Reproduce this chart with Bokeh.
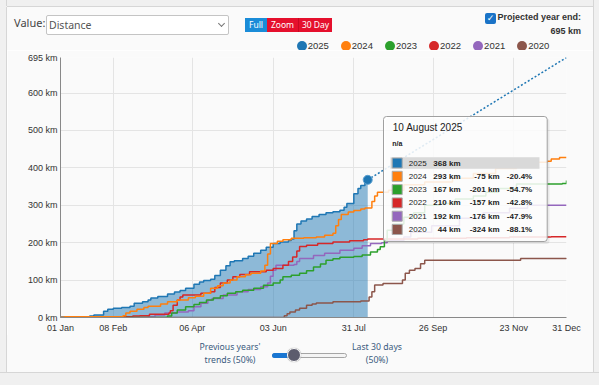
import pandas as pd
from bokeh.plotting import figure
from bokeh.layouts import column, row
from bokeh.models import (Label, BoxAnnotation, FixedTicker, DatetimeTickFormatter,
                          PrintfTickFormatter, Range1d, Div)
from bokeh.embed import file_html
from bokeh.resources import INLINE

YEAR = 2025

# ---------------- data ----------------
years = ["2025", "2024", "2023", "2022", "2021", "2020"]
colors = ["#1f77b4", "#ff7f0e", "#2ca02c", "#d62728", "#9467bd", "#8c564b"]

d2025 = ["01-01", "01-22", "01-25", "02-01", "02-04", "02-08", "02-14", "02-20", "02-23", "03-01",
         "03-05", "03-07", "03-12", "03-19", "03-24", "03-28", "04-01", "04-07", "04-11", "04-14",
         "04-19", "04-22", "04-26", "04-30", "05-03", "05-06", "05-12", "05-16", "05-20", "05-25",
         "05-29", "06-03", "06-08", "06-14", "06-16", "06-18", "06-20", "06-23", "06-27", "07-01",
         "07-06", "07-11", "07-16", "07-21", "07-24", "07-26", "07-31", "08-03", "08-05", "08-08",
         "08-10"]
k2025 = [0, 4, 7, 17, 22, 25, 27, 30, 38, 42,
         47, 52, 56, 63, 68, 72, 78, 89, 95, 99,
         102, 112, 126, 138, 149, 152, 158, 164, 172, 180,
         188, 198, 202, 206, 210, 232, 250, 258, 263, 270,
         275, 280, 283, 287, 295, 305, 331, 345, 353, 362,
         368]

d2024 = ["01-01", "01-04", "02-15", "02-17", "02-20", "02-25", "03-02", "03-05", "03-14", "03-19",
         "03-26", "04-03", "04-08", "04-14", "04-19", "04-24", "04-28", "05-03", "05-08", "05-14",
         "05-18", "05-25", "05-28", "05-30", "06-01", "06-06", "06-10", "06-16", "06-25", "07-04",
         "07-10", "07-16", "07-18", "07-20", "07-22", "07-27", "07-31", "08-05", "08-08", "08-13",
         "08-15", "08-17", "08-25", "09-05", "09-20", "10-10", "10-25", "11-10", "11-25", "12-10",
         "12-17", "12-20", "12-26", "12-31"]
k2024 = [0, 2, 5, 12, 17, 22, 27, 30, 36, 42,
         47, 53, 57, 65, 78, 85, 92, 100, 109, 114,
         118, 124, 140, 170, 198, 204, 208, 212, 213, 215,
         220, 225, 245, 262, 275, 282, 286, 290, 293, 310,
         325, 335, 340, 355, 362, 372, 385, 398, 408, 415,
         418, 424, 428, 428]

d2023 = ["01-01", "03-19", "03-22", "03-26", "04-01", "04-07", "04-11", "04-16", "04-21", "04-26",
         "05-01", "05-07", "05-12", "05-20", "05-27", "06-03", "06-08", "06-10", "06-16", "06-22",
         "06-27", "07-02", "07-07", "07-11", "07-16", "07-21", "07-31", "08-06", "08-12", "08-17",
         "08-19", "08-22", "08-24", "08-28", "09-05", "09-12", "09-20", "10-01", "10-12", "10-25",
         "11-03", "11-12", "11-25", "12-28", "12-31"]
k2023 = [0, 4, 12, 20, 29, 35, 40, 47, 52, 58,
         65, 69, 73, 78, 86, 92, 100, 109, 113, 118,
         125, 135, 143, 153, 157, 161, 163, 167, 175, 182,
         189, 206, 233, 250, 268, 280, 300, 305, 317, 325,
         335, 345, 357, 358, 366]

d2022 = ["01-01", "02-10", "02-22", "02-27", "03-06", "03-20", "03-21", "03-23", "03-26", "03-28",
         "03-30", "04-12", "04-19", "04-22", "04-26", "05-01", "05-05", "05-10", "05-17", "05-29",
         "06-03", "06-10", "06-14", "06-17", "06-20", "06-22", "06-27", "07-05", "07-16", "07-28",
         "08-07", "08-10", "09-15", "10-20", "11-20", "12-20", "12-31"]
k2022 = [0, 2, 4, 5, 9, 12, 18, 33, 47, 55,
         60, 65, 69, 80, 92, 100, 109, 115, 122, 126,
         131, 140, 150, 162, 178, 190, 193, 198, 202, 205,
         208, 210, 212, 213, 215, 216, 216]

d2021 = ["01-01", "03-05", "03-10", "03-17", "03-26", "04-03", "04-07", "04-12", "04-17", "04-20",
         "04-28", "05-08", "05-16", "05-25", "05-30", "06-01", "06-03", "06-05", "06-18", "06-20",
         "06-22", "07-02", "07-10", "07-21", "07-31", "08-06", "08-12", "08-20", "08-24", "09-05",
         "09-10", "09-25", "10-15", "11-01", "11-20", "12-03", "12-31"]
k2021 = [0, 2, 7, 12, 15, 18, 29, 38, 46, 51,
         60, 69, 75, 82, 92, 110, 126, 140, 142, 150,
         158, 166, 172, 180, 185, 192, 198, 200, 206, 215,
         228, 245, 265, 280, 292, 300, 300]

d2020 = ["01-01", "06-11", "06-13", "06-15", "06-19", "06-22", "06-27", "07-01", "07-04", "07-16",
         "08-05", "08-11", "08-13", "08-15", "08-21", "09-04", "09-06", "09-09", "09-13", "09-17",
         "09-20", "11-28", "12-31"]
k2020 = [0, 5, 10, 15, 20, 25, 33, 36, 39, 42,
         44, 55, 69, 87, 91, 100, 118, 126, 131, 144,
         153, 158, 159]

projected_km = 695
current_day = "08-10"
year_start = "01-01"
year_end = "12-31"
x_ticks = ["01-01", "02-08", "04-06", "06-03", "07-31", "09-26", "11-23", "12-31"]
x_grid = ["02-08", "04-06", "06-03", "07-31", "09-26", "11-23"]
y_ticks = [0, 100, 200, 300, 400, 500, 600, 695]
y_grid = [100, 200, 300, 400, 500, 600]

tip_title = "10 August 2025"
tip_km = ["368 km", "293 km", "167 km", "210 km", "192 km", "44 km"]
tip_diff = ["", "-75 km", "-201 km", "-157 km", "-176 km", "-324 km"]
tip_pct = ["", "-20.4%", "-54.7%", "-42.8%", "-47.9%", "-88.1%"]


def ts(md):
    return pd.Timestamp(f"{YEAR}-{md}")


def ms(md):
    return ts(md).value / 1e6


BG = "#fafafa"
OUT = "#f0f0f0"
EDGE = "#d6d6d6"
UI = "'Noto Sans', sans-serif"
AR = "'Liberation Sans', Arial, sans-serif"

# ---------------- figure ----------------
p = figure(width=586, height=285, x_axis_type="datetime", output_backend="svg",
           toolbar_location=None, title=None,
           x_range=Range1d(ms(year_start), ms(year_end)), y_range=Range1d(0, projected_km),
           min_border_left=53, min_border_right=27, min_border_top=7, min_border_bottom=17)
p.background_fill_color = BG
p.border_fill_color = BG
p.outline_line_color = None

p.xaxis.ticker = FixedTicker(ticks=[ms(t) for t in x_ticks])
p.xgrid.ticker = FixedTicker(ticks=[ms(t) for t in x_grid])
fmt = "%d %b"
p.xaxis.formatter = DatetimeTickFormatter(milliseconds=fmt, seconds=fmt, minsec=fmt, minutes=fmt,
                                          hourmin=fmt, hours=fmt, days=fmt, months=fmt, years=fmt)
p.yaxis.ticker = FixedTicker(ticks=y_ticks)
p.ygrid.ticker = FixedTicker(ticks=y_grid)
p.yaxis.formatter = PrintfTickFormatter(format="%d km")
for ax in (p.xaxis, p.yaxis):
    ax.axis_line_color = "#888888"
    ax.major_tick_line_color = None
    ax.minor_tick_line_color = None
    ax.major_tick_out = 0
    ax.major_tick_in = 0
    ax.minor_tick_out = 0
    ax.minor_tick_in = 0
    ax.major_label_text_font = "Liberation Sans"
    ax.major_label_text_font_size = "9px"
    ax.major_label_text_color = "#333333"
p.xaxis.major_label_standoff = 5
p.yaxis.major_label_standoff = 3
p.grid.grid_line_color = "#e4e4e4"

# ---------------- series ----------------
x25 = [ts(d) for d in d2025]
p.varea_step(x=x25, y1=[0] * len(k2025), y2=k2025, step_mode="after",
             fill_color=colors[0], fill_alpha=0.5)
p.step(x=x25, y=k2025, mode="after", line_color=colors[0], line_width=1.5)

others = [(d2024, k2024), (d2023, k2023), (d2022, k2022), (d2021, k2021), (d2020, k2020)]
for (dd, kk), col in reversed(list(zip(others, colors[1:]))):
    p.step(x=[ts(d) for d in dd], y=kk, mode="after", line_color=col, line_width=1.5)

p.line(x=[ts(current_day), ts(year_end)], y=[k2025[-1], projected_km],
       line_color=colors[0], line_width=1.5, line_dash="2 2")
p.scatter(x=[ts(current_day)], y=[k2025[-1]], size=9, fill_color=colors[0],
          line_color="#5a9fd0", line_width=1)


# ---------------- tooltip (inside the plot frame) ----------------
def lab(x, y, text, size="8px", color="#222222", style="normal", align="left"):
    p.add_layout(Label(x=x, y=y, x_units="canvas", y_units="canvas", text=text,
                       text_font="Liberation Sans", text_font_size=size, text_color=color,
                       text_font_style=style, text_align=align, text_baseline="middle"))


def box(l, t, r, b, fill, line=None, radius=0, alpha=1.0):
    p.add_layout(BoxAnnotation(left=l, right=r, top=t, bottom=b,
                               left_units="canvas", right_units="canvas",
                               top_units="canvas", bottom_units="canvas",
                               fill_color=fill, fill_alpha=alpha,
                               line_color=line, line_alpha=1.0, line_width=1,
                               border_radius=radius))


box(378, 68, 542, 193.5, "#000000", radius=3, alpha=0.07)
box(376, 66, 539.7, 191, "#ffffff", line="#a0a0a0", radius=3, alpha=0.86)
lab(385.3, 76.7, tip_title, size="10px")
lab(384.7, 93.3, "n/a", size="7px", style="bold")
box(383, 106.7, 532, 118.3, "#d9d9d9")
for i, yr in enumerate(years):
    yy = 112.5 + i * 13.3
    box(384.7, yy - 5, 394.7, yy + 5, colors[i], line="#aaaaaa")
    lab(401.3, yy, yr)
    lab(453, yy, tip_km[i], style="bold", align="right")
    if tip_diff[i]:
        lab(492, yy, tip_diff[i], style="bold", align="right")
        lab(524.7, yy, tip_pct[i], style="bold", align="right")


# ---------------- header (controls + legend) ----------------
def absdiv(l, t, w, h, style="", content=""):
    return (f'<div style="position:absolute;box-sizing:border-box;left:{l}px;top:{t}px;'
            f'width:{w}px;height:{h}px;{style}">{content}</div>')


legend_html = ""
for i, (yr, col) in enumerate(zip(years, colors)):
    cx = 301.7 + i * 44.1
    legend_html += absdiv(cx - 5, 41, 10, 10, f"border-radius:50%;background:{col};")
    legend_html += absdiv(cx + 6, 40, 30, 12,
                          f"font:9.5px {AR};line-height:12px;color:#333;white-space:nowrap;", yr)

header_html = (
    f'<div style="position:relative;width:599px;height:50px;background:{BG};overflow:hidden;">'
    + absdiv(0, 0, 599, 7, f"background:{OUT};border-bottom:1px solid {EDGE};")
    + absdiv(0, 0, 7, 50, f"background:{OUT};border-right:1px solid {EDGE};")
    + absdiv(593, 0, 6, 50, f"background:{OUT};border-left:1px solid {EDGE};")
    + absdiv(0, 6, 7, 1, f"background:{OUT};")
    + absdiv(14, 16, 40, 14, f"font:11px {UI};line-height:14px;color:#444;", "Value:")
    + absdiv(46, 15, 183, 20, "background:#fff;border:1px solid #c4c4c4;border-radius:2px;"
             f"font:10.5px {UI};line-height:18px;color:#555;padding-left:2px;", "Distance")
    + absdiv(219, 21, 5, 5, "border-right:1px solid #777;border-bottom:1px solid #777;"
             "transform:rotate(45deg);")
    + absdiv(245, 18, 22, 14, f"background:#1a8cd8;color:#fff;font:8.5px {UI};"
             "line-height:14px;text-align:center;", "Full")
    + absdiv(267, 18, 31, 14, f"background:#e5102d;color:#fff;font:8.5px {UI};"
             "line-height:14px;text-align:center;", "Zoom")
    + absdiv(298, 18, 34, 14, f"background:#e5102d;color:#fff;font:8.5px {UI};"
             "line-height:14px;text-align:center;border-left:1px solid #c80a22;", "30 Day")
    + absdiv(485, 13, 11, 11, "background:#1a73c7;border-radius:2px;color:#fff;"
             "font:bold 9px 'DejaVu Sans';line-height:11px;text-align:center;", "&#10003;")
    + f'<div style="position:absolute;right:18px;top:11px;font:bold 9px {AR};line-height:12px;'
      f'color:#333;white-space:nowrap;">Projected year end:</div>'
    + f'<div style="position:absolute;right:18px;top:25px;font:bold 9px {AR};line-height:12px;'
      f'color:#333;white-space:nowrap;">{projected_km} km</div>'
    + legend_html
    + '</div>'
)

# ---------------- footer (slider) ----------------
SC = "#3b5b7e"
footer_html = (
    f'<div style="position:relative;width:599px;height:50px;background:{BG};overflow:hidden;">'
    + absdiv(0, 0, 7, 38, f"background:{OUT};border-right:1px solid {EDGE};")
    + absdiv(593, 0, 6, 38, f"background:{OUT};border-left:1px solid {EDGE};")
    + absdiv(0, 37, 599, 13, f"background:{OUT};border-top:1px solid {EDGE};")
    + absdiv(180, 6, 100, 26, f"font:8.7px {UI};line-height:12.5px;color:{SC};text-align:center;",
             "Previous years'<br>trends (50%)")
    + absdiv(327, 6, 100, 26, f"font:8.7px {UI};line-height:12.5px;color:{SC};text-align:center;",
             "Last 30 days<br>(50%)")
    + absdiv(272, 18, 75, 5, "background:#f4f4f4;border:1px solid #a5a5a5;border-radius:3px;")
    + absdiv(272, 18, 18, 5, "background:#1976d2;border-radius:3px 0 0 3px;")
    + absdiv(287.3, 13, 14, 14, "background:#5c5c6d;border:1.5px solid #fff;border-radius:50%;"
             "box-shadow:0 0 1px #777;")
    + '</div>'
)

header = Div(text=header_html, width=599, height=50, margin=0)
footer = Div(text=footer_html, width=599, height=50, margin=0)
side_l = Div(text=f'<div style="width:7px;height:285px;box-sizing:border-box;background:{OUT};'
                  f'border-right:1px solid {EDGE};"></div>', width=7, height=285, margin=0)
side_r = Div(text=f'<div style="width:6px;height:285px;box-sizing:border-box;background:{OUT};'
                  f'border-left:1px solid {EDGE};"></div>', width=6, height=285, margin=0)

page = column(header, row(side_l, p, side_r, spacing=0), footer, spacing=0)

open("out.html", "w").write(file_html(page, INLINE))
